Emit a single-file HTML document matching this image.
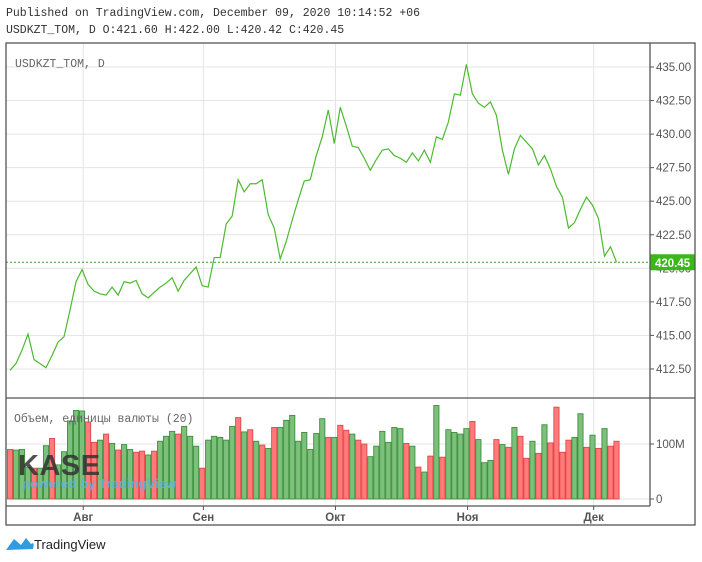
<!DOCTYPE html>
<html><head><meta charset="utf-8"><style>
body{margin:0;background:#fff;width:702px;height:562px;overflow:hidden;font-family:"Liberation Sans",sans-serif}
.hdr{position:absolute;left:6px;font-family:"Liberation Mono",monospace;font-size:11.5px;color:#333}
</style></head><body>
<div class="hdr" style="top:7px">Published on TradingView.com, December 09, 2020 10:14:52 +06</div>
<div class="hdr" style="top:24px">USDKZT_TOM, D O:421.60 H:422.00 L:420.42 C:420.45</div>
<svg id="chart" width="702" height="562" style="position:absolute;left:0;top:0"></svg>
<script>
const prices=[412.4,412.9,413.9,415.1,413.2,412.9,412.6,413.5,414.5,414.9,416.9,419.0,419.9,418.8,418.3,418.1,418.0,418.6,418.0,419.0,418.9,419.1,418.1,417.8,418.2,418.6,418.9,419.3,418.3,419.1,419.6,420.1,418.7,418.6,420.8,420.8,423.3,423.9,426.6,425.7,426.3,426.3,426.6,424.0,423.0,420.7,422.0,423.6,425.1,426.5,426.6,428.4,429.8,431.8,429.3,432.0,430.6,429.1,429.0,428.2,427.3,428.1,428.8,428.9,428.4,428.2,427.9,428.6,428.0,428.8,427.9,429.8,429.6,430.9,433.0,432.9,435.2,433.0,432.3,432.0,432.4,431.4,428.8,427.0,428.9,429.9,429.4,428.9,427.7,428.4,427.4,426.1,425.3,423.0,423.4,424.4,425.3,424.7,423.7,420.9,421.6,420.45];
const volumes=[90,89,90,58,56,56,97,110,62,86,142,161,160,140,103,107,118,101,89,99,90,85,87,80,87,105,114,123,118,132,114,96,56,107,114,112,107,132,148,122,126,105,98,92,130,130,143,152,105,121,90,119,146,112,112,134,125,118,107,100,77,96,123,103,130,128,101,96,58,49,78,170,76,126,121,118,128,141,108,66,70,108,99,94,130,114,74,105,83,135,102,167,85,107,112,155,94,116,92,128,96,105];
const volDir="dgggdggdgggggddgdgdggddgdgggdgggdgggggdgdgdgdggggggggdgddgddggggggdgdgdgdggggdgggdgdgddgdgddddggdgdgd";
const priceTicks=[435,432.5,430,427.5,425,422.5,420,417.5,415,412.5];
const monthLabels=["Авг","Сен","Окт","Ноя","Дек"];
const monthIdx=[12.2,32.2,54.2,76.2,97.2];
const lastPrice=420.45;

const svg=document.getElementById('chart');const NS='http://www.w3.org/2000/svg';
function el(t,a,p){const e=document.createElementNS(NS,t);for(const k in a)e.setAttribute(k,a[k]);(p||svg).appendChild(e);return e;}
const X=i=>10+6.005*i;
const Y=v=>67+(435-v)*13.42;
const VY=v=>499-v*0.55;
const L=6,R=695,AX=650,T=43,SEP=398,VB=506,B=525;
monthIdx.forEach((m,k)=>{const g=el('line',{x1:X(m),x2:X(m),y1:T,y2:VB,stroke:'#e4e4e4'});
});
priceTicks.forEach(v=>{const g=el('line',{x1:L,x2:AX,y1:Y(v),y2:Y(v),stroke:'#e4e4e4'});

el('line',{x1:AX,x2:AX+4,y1:Y(v),y2:Y(v),stroke:'#555'});
const t=el('text',{x:656,y:Y(v)+4,'font-size':11.5,fill:'#555','font-family':'Liberation Sans, sans-serif'});t.textContent=v.toFixed(2);
});
el('line',{x1:L,x2:AX,y1:VY(100),y2:VY(100),stroke:'#e4e4e4'});
el('line',{x1:L,x2:AX,y1:VY(0),y2:VY(0),stroke:'#e4e4e4'});
[[100,'100M'],[0,'0']].forEach(([v,s])=>{el('line',{x1:AX,x2:AX+4,y1:VY(v),y2:VY(v),stroke:'#555'});
const t=el('text',{x:656,y:VY(v)+4,'font-size':11.5,fill:'#555'});t.textContent=s;
});
volumes.forEach((v,i)=>{const up=volDir[i]==='g';
const r=el('rect',{x:X(i)-2.6,y:VY(v),width:5.2,height:VY(0)-VY(v),fill:up?'#7cc07c':'#ff7a7a',stroke:up?'#3d8f3d':'#e04848','stroke-width':0.9});
});
const w1=el('text',{x:18,y:475,'font-size':29,'font-weight':'bold',fill:'#333','fill-opacity':0.85,'letter-spacing':0.5});w1.textContent='KASE';

const w2=el('text',{x:22,y:488,'font-size':13.2,'font-weight':'bold',fill:'#5fb0e0','fill-opacity':0.85});w2.textContent='powered by TradingView';

const pl=el('polyline',{points:prices.map((p,i)=>X(i)+','+Y(p)).join(' '),fill:'none',stroke:'#4cba2e','stroke-width':1.2});

const dl=el('line',{x1:L,x2:AX,y1:Y(lastPrice),y2:Y(lastPrice),stroke:'#3a9a20','stroke-dasharray':'2,2'});

const lb=el('rect',{x:AX,y:Y(lastPrice)-8,width:45,height:16,fill:'#3bb71a'});

const lt=el('text',{x:655,y:Y(lastPrice)+4.5,'font-size':11.5,'font-weight':'bold',fill:'#fff'});lt.textContent=lastPrice.toFixed(2);

el('rect',{x:L,y:T,width:R-L,height:B-T,fill:'none',stroke:'#555','stroke-width':1.3});
el('line',{x1:AX,x2:AX,y1:T,y2:VB,stroke:'#555','stroke-width':1.3});
el('line',{x1:L,x2:R,y1:SEP,y2:SEP,stroke:'#555','stroke-width':1.3});
el('line',{x1:L,x2:AX,y1:VB,y2:VB,stroke:'#555','stroke-width':1.3});
monthLabels.forEach((m,k)=>{el('line',{x1:X(monthIdx[k]),x2:X(monthIdx[k]),y1:VB,y2:VB+4,stroke:'#555'});
const t=el('text',{x:X(monthIdx[k]),y:521,'font-size':11.5,'font-weight':'bold',fill:'#555','text-anchor':'middle'});t.textContent=m;
});
const s1=el('text',{x:15,y:67,'font-size':11.5,fill:'#666','font-family':'Liberation Mono, monospace'});s1.textContent='USDKZT_TOM, D';

const s2=el('text',{x:14,y:422,'font-size':11.5,fill:'#666','font-family':'Liberation Mono, monospace'});s2.textContent='Объем, единицы валюты (20)';

const lg=el('path',{d:'M6 550 L14 539 L21 545 L26 538 L31 544 Q35 541 33 549 Z',fill:'#2f9be0'});

const ft=el('text',{x:34,y:549,'font-size':13,fill:'#222'});ft.textContent='TradingView';

</script>
</body></html>
